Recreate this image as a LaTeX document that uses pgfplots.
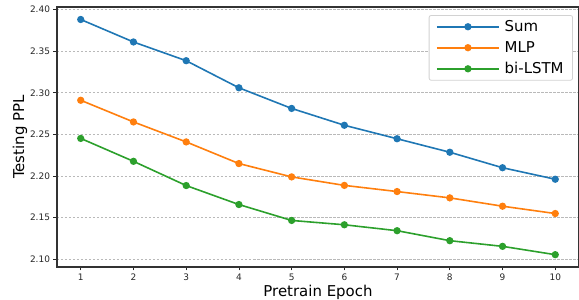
\documentclass[border=0pt]{standalone}
\usepackage{pgfplots}
\pgfplotsset{compat=1.18}
\usepackage{fontspec}
\setmainfont{DejaVu Sans}
\definecolor{tabblue}{HTML}{1F77B4}
\definecolor{taborange}{HTML}{FF7F0E}
\definecolor{tabgreen}{HTML}{2CA02C}
\tikzset{ser/.style={line width=1.6bp, mark=*, mark size=2.8bp, mark options={solid, fill=#1, draw=#1}, color=#1}}
\begin{document}
\begin{tikzpicture}
\path[use as bounding box] (-57bp,-33bp) rectangle (522bp,267bp);
\begin{axis}[
  at={(0,0)}, anchor=south west,
  scale only axis, width=522bp, height=260bp,
  xmin=0.55, xmax=10.45, ymin=2.0908, ymax=2.403,
  xtick={1,...,10},
  ytick={2.10,2.15,2.20,2.25,2.30,2.35,2.40},
  yticklabel style={/pgf/number format/.cd, fixed, fixed zerofill, precision=2},
  /pgf/number format/assume math mode=true,
  tick label style={font=\fontsize{9}{10}\selectfont, color=black!85},
  tick align=outside, tick pos=left,
  major tick length=3.5bp,
  every tick/.style={black!85, line width=0.8bp},
  axis line style={black!80, line width=1.2bp},
  ymajorgrids,
  grid style={gray!55, line width=0.8bp, dash pattern=on 2.5bp off 1.5bp},
  xlabel={Pretrain Epoch},
  ylabel={Testing PPL},
  label style={font=\fontsize{15}{18}\selectfont},
  xlabel style={at={(axis description cs:0.5,0)}, anchor=base, yshift=-29.5bp},
  ylabel style={at={(axis description cs:-0.0632,0.5)}, anchor=base},
  legend style={at={(rel axis cs:0.9885,0.969)}, anchor=north east,
    font=\fontsize{15}{18}\selectfont, draw=gray!35, rounded corners=2bp,
    line width=0.8bp, row sep=4.5bp, column sep=3bp, inner xsep=7bp, inner ysep=3bp,
    cells={anchor=west}},
  legend image code/.code={
    \draw[mark repeat=2, mark phase=2] plot coordinates {(0bp,0bp) (31bp,0bp) (62bp,0bp)};
  },
]
\addplot[ser=tabblue] coordinates {
(1,2.388) (2,2.361) (3,2.3385) (4,2.306) (5,2.2812) (6,2.261) (7,2.2448) (8,2.2286) (9,2.2100) (10,2.1962)};
\addlegendentry{Sum}
\addplot[ser=taborange] coordinates {
(1,2.291) (2,2.265) (3,2.241) (4,2.215) (5,2.199) (6,2.1888) (7,2.1814) (8,2.1738) (9,2.1638) (10,2.155)};
\addlegendentry{MLP}
\addplot[ser=tabgreen] coordinates {
(1,2.2452) (2,2.2177) (3,2.1886) (4,2.1658) (5,2.1467) (6,2.1415) (7,2.1344) (8,2.1224) (9,2.1156) (10,2.1056)};
\addlegendentry{bi-LSTM}
\end{axis}
\end{tikzpicture}
\end{document}
